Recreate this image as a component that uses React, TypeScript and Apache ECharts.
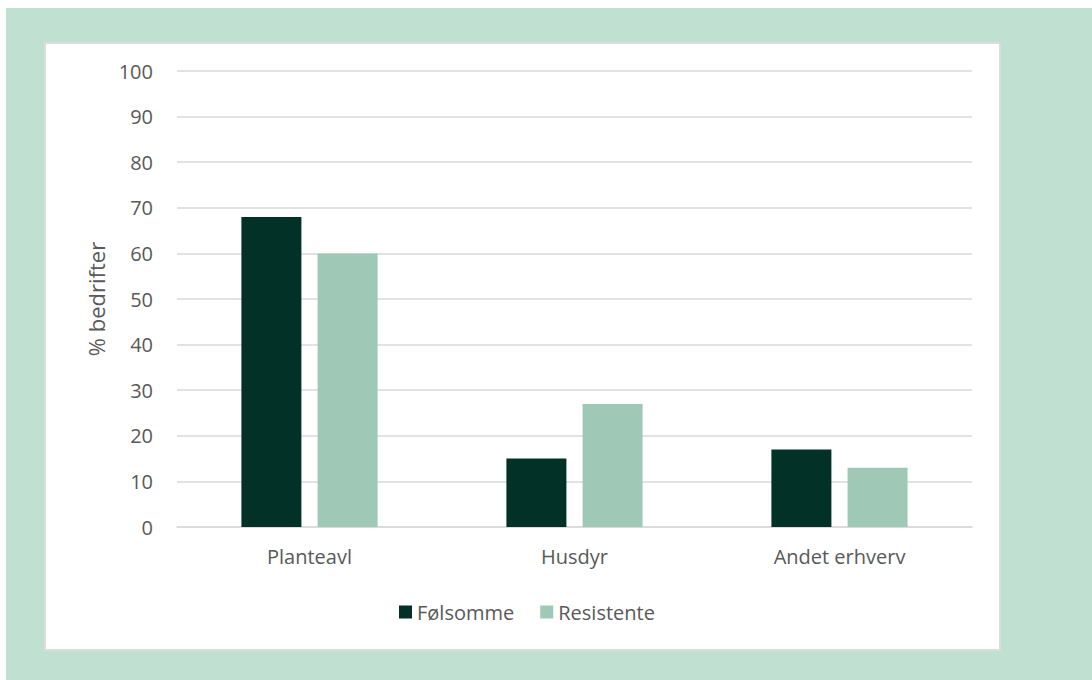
import React, { useEffect, useRef } from "react";
import * as echarts from "echarts";

const categories = ["Planteavl", "Husdyr", "Andet erhverv"];
const folsomme = [68, 15, 17];
const resistente = [60, 27, 13];
const seriesNames = ["Følsomme", "Resistente"];

const FONT = "'Open Sans', 'Noto Sans', sans-serif";
const TEXT = "#595959";

export default function App() {
  const ref = useRef<HTMLDivElement>(null);
  useEffect(() => {
    if (!ref.current) return;
    const chart = echarts.init(ref.current, undefined, { renderer: "svg" });
    chart.setOption({
      animation: false,
      backgroundColor: "transparent",
      textStyle: { fontFamily: FONT, color: TEXT },
      grid: { left: 177, right: 120, top: 71, bottom: 153, containLabel: false },
      legend: {
        left: 394,
        top: 597,
        icon: "rect",
        itemWidth: 13,
        itemHeight: 13,
        itemGap: 26,
        textStyle: { fontFamily: FONT, fontSize: 20, color: TEXT },
        data: seriesNames,
      },
      xAxis: {
        type: "category",
        data: categories,
        axisLine: { lineStyle: { color: "#d9d9d9", width: 1.5 } },
        axisTick: { show: false },
        axisLabel: { fontFamily: FONT, fontSize: 20, color: TEXT, margin: 19 },
      },
      yAxis: {
        type: "value",
        min: 0,
        max: 100,
        interval: 10,
        name: "% bedrifter",
        nameLocation: "middle",
        nameRotate: 90,
        nameGap: 70,
        nameTextStyle: { fontFamily: FONT, fontSize: 22, color: TEXT },
        axisLine: { show: false },
        axisTick: { show: false },
        axisLabel: { fontFamily: FONT, fontSize: 20, color: TEXT, margin: 24 },
        splitLine: { lineStyle: { color: "#d9d9d9", width: 1.5 } },
      },
      series: [
        {
          name: seriesNames[0],
          type: "bar",
          data: folsomme,
          barWidth: 60,
          barGap: "27%",
          itemStyle: { color: "#023128" },
        },
        {
          name: seriesNames[1],
          type: "bar",
          data: resistente,
          barWidth: 60,
          itemStyle: { color: "#9fc9b6" },
        },
      ],
    });
    return () => chart.dispose();
  }, []);

  return (
    <div style={{ position: "fixed", left: 0, top: 0, width: 1092, height: 680, background: "#ffffff" }}>
      <div style={{ position: "absolute", left: 6, top: 8, width: 1086, height: 672, background: "#c0e0d2" }} />
      <div
        style={{
          position: "absolute",
          left: 44,
          top: 42,
          width: 957,
          height: 609,
          background: "#ffffff",
          border: "2px solid #dcdcdc",
          boxSizing: "border-box",
        }}
      />
      <div ref={ref} style={{ position: "absolute", left: 0, top: 0, width: 1092, height: 680 }} />
    </div>
  );
}
